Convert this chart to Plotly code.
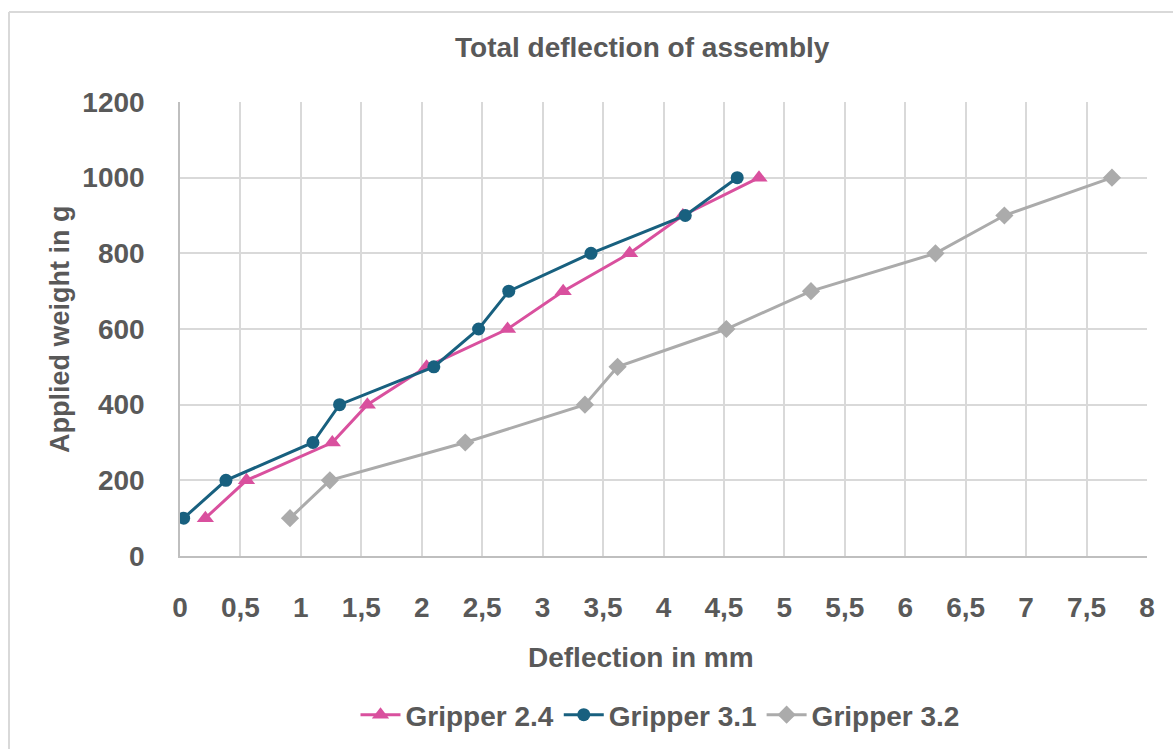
import plotly.graph_objects as go

# ---- data ----
weights = [100, 200, 300, 400, 500, 600, 700, 800, 900, 1000]
defl_g24 = [0.21, 0.55, 1.26, 1.55, 2.04, 2.71, 3.17, 3.72, 4.16, 4.79]
defl_g31 = [0.03, 0.38, 1.10, 1.32, 2.10, 2.47, 2.72, 3.40, 4.18, 4.61]
defl_g32 = [0.91, 1.24, 2.36, 3.35, 3.62, 4.52, 5.22, 6.25, 6.82, 7.71]
series_names = ["Gripper 2.4", "Gripper 3.1", "Gripper 3.2"]
x_tick_vals = [0, 0.5, 1, 1.5, 2, 2.5, 3, 3.5, 4, 4.5, 5, 5.5, 6, 6.5, 7, 7.5, 8]
x_tick_text = ["0", "0,5", "1", "1,5", "2", "2,5", "3", "3,5", "4", "4,5",
               "5", "5,5", "6", "6,5", "7", "7,5", "8"]
y_tick_vals = [0, 200, 400, 600, 800, 1000, 1200]
title_text = "Total deflection of assembly"
x_title = "Deflection in mm"
y_title = "Applied weight in g"

W, H = 1173, 749
L, R, T, B = 180, 1173 - 1147, 102, 749 - 556
PW, PH = W - L - R, H - T - B


def px(xp):
    return (xp - L) / PW


def py(yp):
    return (H - B - yp) / PH


TXT = "#595959"
FONT = "Liberation Sans, Arial, sans-serif"

fig = go.Figure()
fig.add_trace(go.Scatter(
    x=defl_g24, y=weights, name=series_names[0], mode="lines+markers",
    line=dict(color="#D9509E", width=3),
    marker=dict(symbol="triangle-up", size=15, color="#D9509E")))
fig.add_trace(go.Scatter(
    x=defl_g31, y=weights, name=series_names[1], mode="lines+markers",
    line=dict(color="#18607F", width=3),
    marker=dict(symbol="circle", size=13, color="#18607F")))
fig.add_trace(go.Scatter(
    x=defl_g32, y=weights, name=series_names[2], mode="lines+markers",
    line=dict(color="#ABABAB", width=3),
    marker=dict(symbol="diamond", size=14, color="#ABABAB")))

fig.update_layout(
    width=W, height=H,
    margin=dict(l=L, r=R, t=T, b=B, autoexpand=False),
    paper_bgcolor="white", plot_bgcolor="white",
    font=dict(family=FONT, color=TXT),
    showlegend=True,
    legend=dict(orientation="h", x=px(660), y=py(715), xanchor="center",
                yanchor="middle",
                font=dict(size=28, color=TXT, family=FONT, weight="bold"),
                itemwidth=40, tracegroupgap=0),
    xaxis=dict(range=[0, 8], tickvals=x_tick_vals, ticktext=x_tick_text,
               showgrid=True, gridcolor="#D9D9D9", gridwidth=1.5,
               showline=True, linecolor="#BFBFBF", linewidth=1.5,
               zeroline=False, ticks="", ticklabelstandoff=26,
               tickfont=dict(size=28, color=TXT, family=FONT, weight="bold")),
    yaxis=dict(range=[0, 1200], tickvals=y_tick_vals,
               showgrid=True, gridcolor="#D9D9D9", gridwidth=1.5,
               showline=True, linecolor="#BFBFBF", linewidth=1.5,
               zeroline=False, ticks="", ticklabelstandoff=28,
               tickfont=dict(size=28, color=TXT, family=FONT, weight="bold")),
)

# outer chart frame (left and top edges visible)
fig.add_shape(type="line", xref="paper", yref="paper",
              x0=px(9), x1=px(9), y0=py(12), y1=py(760),
              line=dict(color="#D9D9D9", width=2))
fig.add_shape(type="line", xref="paper", yref="paper",
              x0=px(9), x1=px(1180), y0=py(12), y1=py(12),
              line=dict(color="#D9D9D9", width=2))

fig.add_annotation(text=title_text, xref="paper", yref="paper",
                   x=px(642), y=py(48), xanchor="center", yanchor="middle",
                   showarrow=False,
                   font=dict(size=28, color=TXT, family=FONT, weight="bold"))
fig.add_annotation(text=x_title, xref="paper", yref="paper",
                   x=px(641), y=py(657), xanchor="center", yanchor="middle",
                   showarrow=False,
                   font=dict(size=28, color=TXT, family=FONT, weight="bold"))
fig.add_annotation(text=y_title, xref="paper", yref="paper",
                   x=px(60), y=py(330), xanchor="center", yanchor="middle",
                   showarrow=False, textangle=-90,
                   font=dict(size=27, color=TXT, family=FONT, weight="bold"))

fig.write_html("out.html")
